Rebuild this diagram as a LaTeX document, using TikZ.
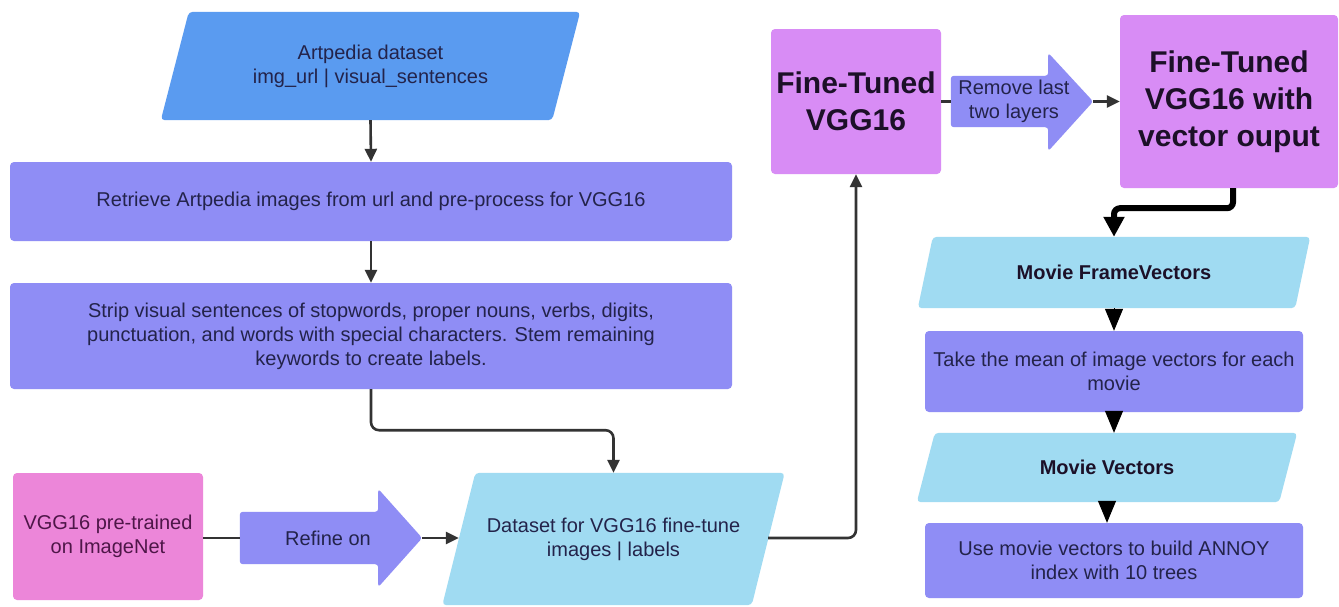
\documentclass[tikz,border=0pt]{standalone}
\usepackage{fontspec}
\setmainfont{Liberation Sans}
\usetikzlibrary{arrows.meta,backgrounds}

\definecolor{dsblue}{HTML}{5A9BF0}
\definecolor{procpurple}{HTML}{8F8DF5}
\definecolor{datacyan}{HTML}{A0DBF2}
\definecolor{pinkbox}{HTML}{EC86D9}
\definecolor{violetbox}{HTML}{D88CF5}
\definecolor{inktext}{HTML}{23234A}
\definecolor{pinkink}{HTML}{4E1648}
\definecolor{modelink}{HTML}{1C1028}
\definecolor{conngray}{HTML}{333333}

\tikzset{
  base/.style={inner sep=0pt, align=center, text=inktext,
               font=\fontsize{20}{24}\selectfont},
  boldbase/.style={base, font=\bfseries\fontsize{20}{24}\selectfont, text=modelink},
  procbox/.style={base, fill=procpurple, rounded corners=4pt},
  pinknode/.style={base, fill=pinkbox, rounded corners=4pt, text=pinkink},
  modelbox/.style={base, fill=violetbox, rounded corners=4pt, text=modelink,
                   font=\bfseries\fontsize{30}{37}\selectfont},
  plainline/.style={draw=conngray, line width=2.6pt},
  conn/.style={plainline, -{Triangle[width=12pt,length=13pt]}},
  heavyconn/.style={draw=black, line width=6pt, rounded corners=6pt,
                    -{Triangle[width=20pt,length=20pt]}},
  wedge/.style={draw=black, line width=1pt, -{Triangle[width=18pt,length=22pt]}}
}

\begin{document}
\begin{tikzpicture}[x=1pt,y=-1pt]
\useasboundingbox (0,0) rectangle (1339,606);

% ---- left column ----
\node[base, minimum width=391pt, minimum height=108pt] (art) at (370.5,66)
  {Artpedia dataset\\img\_url | visual\_sentences};
\node[procbox, minimum width=722pt, minimum height=79pt] (ret) at (371,201.5)
  {Retrieve Artpedia images from url and pre-process for VGG16};
\node[procbox, minimum width=722pt, minimum height=106pt] (strip) at (371,336)
  {Strip visual sentences of stopwords, proper nouns, verbs, digits,\\
   punctuation, and words with special characters. Stem remaining\\
   keywords to create labels.};
\node[pinknode, minimum width=190pt, minimum height=127pt] (pre) at (108,536.5)
  {VGG16 pre-trained\\on ImageNet};
\node[base, minimum width=182pt, minimum height=52pt] (ref) at (331,538) {};
\node[base] (reftxt) at (328,538) {Refine on};
\node[base, minimum width=309pt, minimum height=132pt] (ds) at (613.5,539)
  {Dataset for VGG16 fine-tune\\images | labels};

% ---- model stage ----
\node[modelbox, minimum width=170pt, minimum height=145pt] (ft) at (856,101.5)
  {Fine-Tuned\\VGG16};
\node[base, minimum width=142pt, minimum height=51pt] (rem) at (1022,101.5) {};
\node[base] (remtxt) at (1014,101) {Remove last\\two layers};
\node[modelbox, minimum width=218pt, minimum height=173pt] (ftv) at (1229,101.5)
  {Fine-Tuned\\VGG16 with\\vector ouput};

% ---- right column ----
\node[boldbase, minimum width=377pt, minimum height=71pt] (mfv) at (1114,272.5)
  {Movie FrameVectors};
\node[procbox, minimum width=378pt, minimum height=81pt] (tm) at (1114,371.5)
  {Take the mean of image vectors for each\\movie};
\node[boldbase, minimum width=362pt, minimum height=69pt] (mv) at (1107,467.5)
  {Movie Vectors};
\node[procbox, minimum width=378pt, minimum height=75pt] (umv) at (1114,560.5)
  {Use movie vectors to build ANNOY\\index with 10 trees};

% ---- shapes behind the texts ----
\begin{scope}[on background layer]
  \fill[white] (0,0) rectangle (1339,606);
  % data parallelograms
  \fill[dsblue, rounded corners=4pt]
    ([xshift=14pt]art.north west) -- ([xshift=14pt]art.north east) --
    ([xshift=-14pt]art.south east) -- ([xshift=-14pt]art.south west) -- cycle;
  \fill[datacyan, rounded corners=4pt]
    ([xshift=16.5pt]ds.north west) -- ([xshift=16.5pt]ds.north east) --
    ([xshift=-16.5pt]ds.south east) -- ([xshift=-16.5pt]ds.south west) -- cycle;
  \fill[datacyan, rounded corners=4pt]
    ([xshift=7.5pt]mfv.north west) -- ([xshift=7.5pt]mfv.north east) --
    ([xshift=-7.5pt]mfv.south east) -- ([xshift=-7.5pt]mfv.south west) -- cycle;
  \fill[datacyan, rounded corners=4pt]
    ([xshift=9pt]mv.north west) -- ([xshift=9pt]mv.north east) --
    ([xshift=-9pt]mv.south east) -- ([xshift=-9pt]mv.south west) -- cycle;
  % block arrows
  \fill[procpurple, rounded corners=3pt]
    (ref.north west) -- ([xshift=-44pt]ref.north east) --
    ([xshift=-44pt,yshift=23pt]ref.north east) -- (ref.east) --
    ([xshift=-44pt,yshift=-23pt]ref.south east) --
    ([xshift=-44pt]ref.south east) -- (ref.south west) -- cycle;
  \fill[procpurple, rounded corners=3pt]
    (rem.north west) -- ([xshift=-45pt]rem.north east) --
    ([xshift=-45pt,yshift=23pt]rem.north east) -- (rem.east) --
    ([xshift=-45pt,yshift=-24pt]rem.south east) --
    ([xshift=-45pt]rem.south east) -- (rem.south west) -- cycle;
\end{scope}

% ---- connectors ----
\draw[conn] (art.south) -- (ret.north);
\draw[conn] (ret.south) -- (strip.north);
\draw[conn, rounded corners=8pt] (strip.south) -- ++(0,41) -| (ds.north);
\draw[plainline] (ref.west -| pre.east) -- (ref.west);
\draw[conn] (ref.east) -- (ref.east -| ds.west);
\draw[conn, rounded corners=8pt] (ref.east -| ds.east) -| (ft.south);
\draw[plainline] (ft.east) -- (rem.west);
\draw[conn] (rem.east) -- (ftv.west);
\draw[heavyconn] ([xshift=4pt]ftv.south) -- ++(0,20) -| (mfv.north);
\draw[wedge] (mfv.south) -- (tm.north);
\draw[wedge] (tm.south) -- (tm.south |- mv.north);
\draw[wedge] (mv.south) -- (mv.south |- umv.north);
\end{tikzpicture}
\end{document}
